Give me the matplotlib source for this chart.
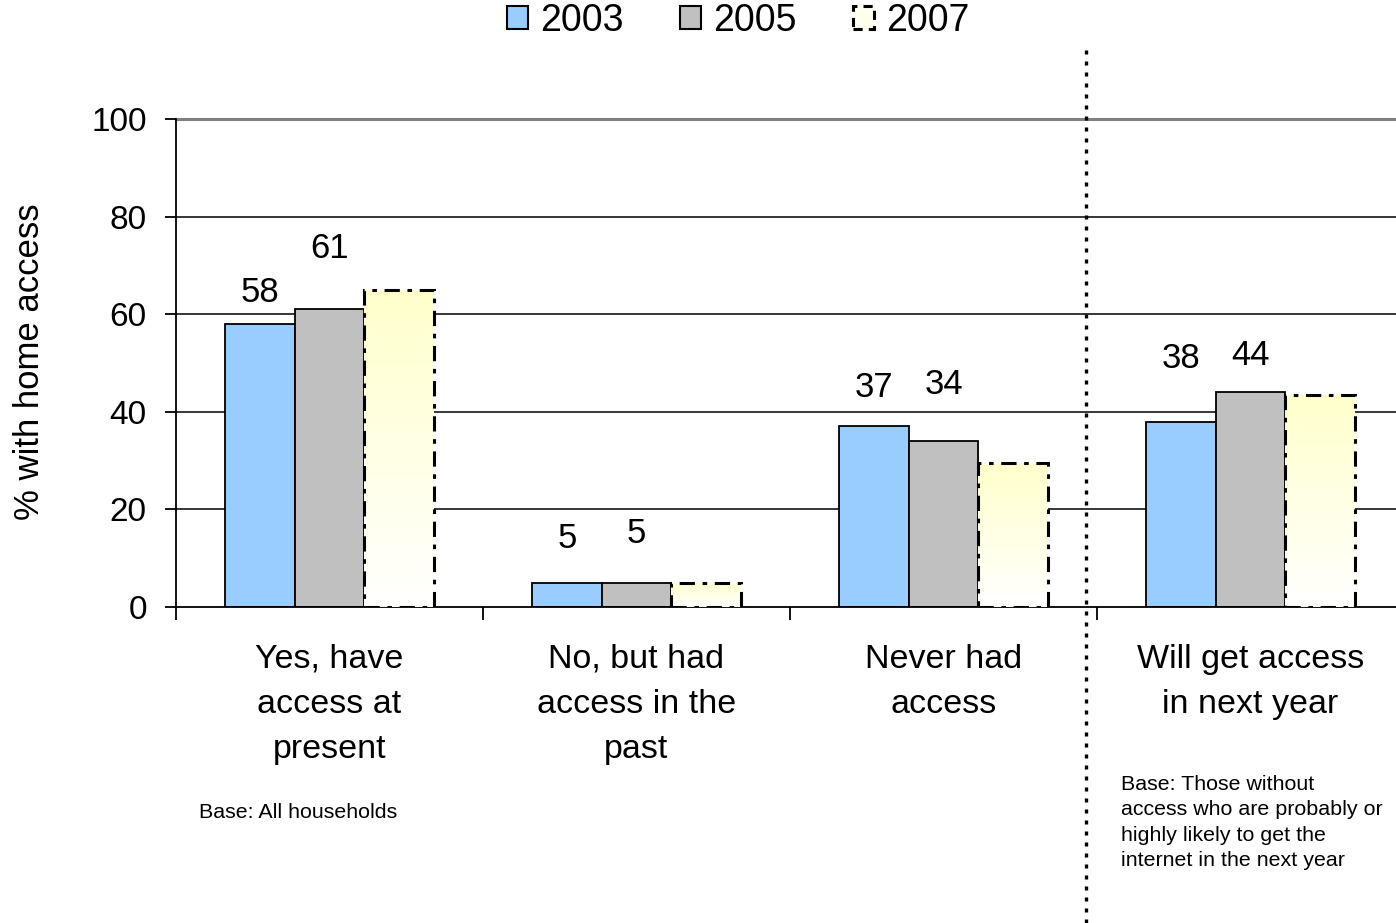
import numpy as np
import matplotlib
matplotlib.use("Agg")
import matplotlib.pyplot as plt
from matplotlib.lines import Line2D
from matplotlib.patches import Patch
from matplotlib.colors import LinearSegmentedColormap

plt.rcParams['font.family'] = ['Liberation Sans', 'DejaVu Sans']

categories = ["Yes, have\naccess at\npresent", "No, but had\naccess in the\npast",
              "Never had\naccess", "Will get access\nin next year"]
years = ["2003", "2005", "2007"]
v2003 = [58, 5, 37, 38]
v2005 = [61, 5, 34, 44]
v2007 = [65, 5, 29.5, 43.5]
# shown value labels (only 2003 and 2005 are labelled)
lab2003 = ["58", "5", "37", "38"]
lab2005 = ["61", "5", "34", "44"]
# label heights above each bar (data units)
off2003 = [6.5, 9, 8, 13]
off2005 = [12.5, 10, 11.5, 7.5]

W, H = 1396, 923
fig = plt.figure(figsize=(W / 100, H / 100), dpi=100)
ax = fig.add_axes([176 / W, 1 - 607 / H, 1 - 176 / W, (607 - 119) / H])

x = np.arange(len(categories))
bw = 0.226

for yv in [20, 40, 60, 80]:
    ax.axhline(yv, color='black', lw=1.1, zorder=0)
ax.axhline(100, color='#808080', lw=2.2, zorder=0, clip_on=False)

b1 = ax.bar(x - bw, v2003, bw, color='#99CCFF', edgecolor='black', lw=1.3, zorder=2)
b2 = ax.bar(x, v2005, bw, color='#C0C0C0', edgecolor='black', lw=1.3, zorder=2)

cmap = LinearSegmentedColormap.from_list('yel', ['#FFFFFF', '#FFFFCC'])
grad = np.linspace(0, 1, 256).reshape(-1, 1)
b3 = ax.bar(x + bw, v2007, bw, facecolor='none', edgecolor='black', lw=2.2,
            linestyle=(0, (5, 2.5, 1.5, 2.5)), zorder=4)
for r in b3:
    x0, y0 = r.get_x(), r.get_y()
    im = ax.imshow(grad, cmap=cmap, origin='lower', aspect='auto', zorder=3,
                   extent=[x0, x0 + r.get_width(), y0, y0 + r.get_height()])
    im.set_clip_path(r)
ax.set_xlim(-0.5, 3.474)
ax.set_ylim(0, 100)

for i in range(len(categories)):
    ax.text(x[i] - bw, v2003[i] + off2003[i], lab2003[i], ha='center', va='center', fontsize=25)
    ax.text(x[i], v2005[i] + off2005[i], lab2005[i], ha='center', va='center', fontsize=25)

for sp in ['top', 'right']:
    ax.spines[sp].set_visible(False)
ax.spines['left'].set_linewidth(1.3)
ax.spines['bottom'].set_linewidth(1.3)

ax.set_yticks([0, 20, 40, 60, 80, 100])
ax.tick_params(axis='y', direction='out', length=8, width=1.3, labelsize=24, pad=13)
ax.set_xticks([-0.5, 0.5, 1.5, 2.5])
ax.set_xticklabels([])
ax.tick_params(axis='x', direction='out', length=9, width=1.3)

for i, c in enumerate(categories):
    ax.text(x[i], -7.5, c, ha='center', va='top', fontsize=24.5,
            linespacing=1.6, transform=ax.transData)

fig.text(30 / W, 1 - 362 / H, "% with home access", rotation=90, ha='center',
         va='center', fontsize=25)

fig.text(199 / W, 1 - 813 / H, "Base: All households", ha='left', va='center', fontsize=15.4)
fig.text(1121 / W, 1 - 775 / H,
         "Base: Those without\naccess who are probably or\nhighly likely to get the\ninternet in the next year",
         ha='left', va='top', fontsize=15.4, linespacing=1.42)

fig.add_artist(Line2D([1086 / W, 1086 / W], [0, 1 - 45 / H], color='black', lw=2.4,
                      linestyle=(0, (1.2, 2.1)), transform=fig.transFigure))

handles = [Patch(facecolor='#99CCFF', edgecolor='black', lw=1.5),
           Patch(facecolor='#C0C0C0', edgecolor='black', lw=1.5),
           Patch(facecolor='#FFFFEE', edgecolor='black', lw=2.2, linestyle=(0, (3, 2)))]
fig.legend(handles, years, loc='center', bbox_to_anchor=(738 / W, 1 - 21 / H), ncol=3,
           frameon=False, fontsize=27, handlelength=0.56, handleheight=0.56,
           handletextpad=0.33, columnspacing=1.5, borderpad=0)

fig.savefig("out.png", dpi=100)
